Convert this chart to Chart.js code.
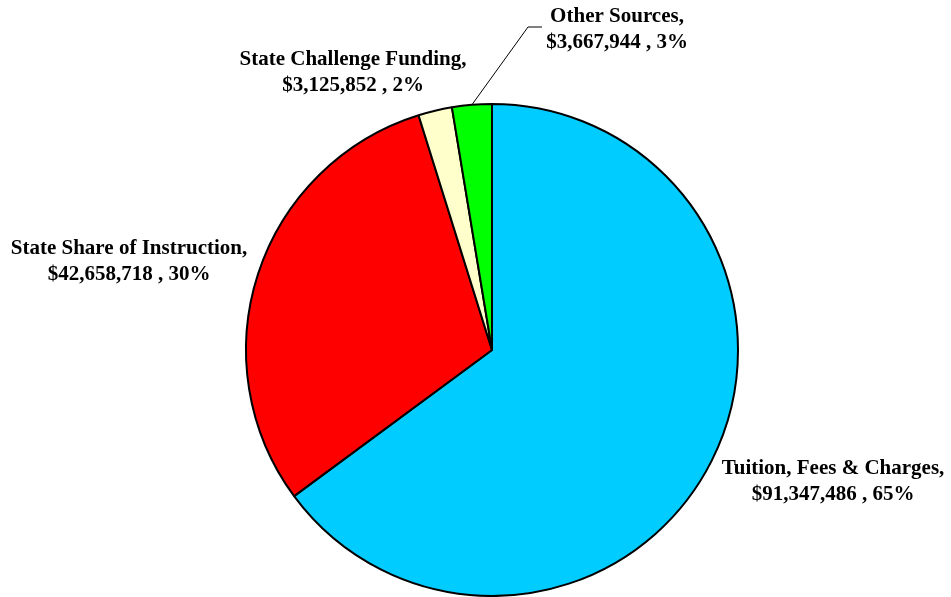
<!DOCTYPE html>
<html>
<head>
<meta charset="utf-8">
<script src="https://cdn.jsdelivr.net/npm/chart.js@4/dist/chart.umd.min.js"></script>
<style>
  html, body { margin: 0; padding: 0; background: #ffffff; }
  #wrap { width: 951px; height: 597px; position: relative; }
</style>
</head>
<body>
<div id="wrap"><canvas id="c" width="951" height="597"></canvas></div>
<script>
// Revenue sources (dollars)
const categories = ['Tuition, Fees & Charges', 'State Share of Instruction', 'State Challenge Funding', 'Other Sources'];
const amounts = [91347486, 42658718, 3125852, 3667944];
const percentLabels = ['65%', '30%', '2%', '3%'];
const sliceColors = ['#00CCFF', '#FF0000', '#FFFFCC', '#00FF00'];

// Where each two-line label is centred (x, y of first line)
const labelAnchors = [
  { x: 833, y: 469 },
  { x: 129, y: 249 },
  { x: 353, y: 60 },
  { x: 617, y: 17 }
];

function money(v) {
  return '$' + v.toLocaleString('en-US');
}

const labelPlugin = {
  id: 'sliceLabels',
  afterDraw(chart) {
    const ctx = chart.ctx;
    const meta = chart.getDatasetMeta(0);
    ctx.save();
    ctx.fillStyle = '#000000';
    ctx.font = 'bold 21px "Liberation Serif", "Times New Roman", serif';
    ctx.textAlign = 'center';
    ctx.textBaseline = 'middle';
    categories.forEach((name, i) => {
      const a = labelAnchors[i];
      ctx.fillText(name + ',', a.x, a.y);
      ctx.fillText(money(amounts[i]) + ' , ' + percentLabels[i], a.x, a.y + 26);
    });

    // leader line for the small "Other Sources" slice
    const arc = meta.data[3];
    const mid = (arc.startAngle + arc.endAngle) / 2;
    const px = arc.x + Math.cos(mid) * arc.outerRadius;
    const py = arc.y + Math.sin(mid) * arc.outerRadius;
    ctx.strokeStyle = '#000000';
    ctx.lineWidth = 1;
    ctx.beginPath();
    ctx.moveTo(px, py);
    ctx.lineTo(528, 27);
    ctx.lineTo(542, 27);
    ctx.stroke();
    ctx.restore();
  }
};

new Chart(document.getElementById('c'), {
  type: 'pie',
  data: {
    labels: categories,
    datasets: [{
      data: amounts,
      backgroundColor: sliceColors,
      borderColor: '#000000',
      borderWidth: 2,
      borderAlign: 'center'
    }]
  },
  options: {
    responsive: false,
    animation: false,
    layout: { padding: { left: 245, right: 212, top: 103, bottom: 0 } },
    plugins: {
      legend: { display: false },
      tooltip: { enabled: false }
    }
  },
  plugins: [labelPlugin]
});
</script>
</body>
</html>
